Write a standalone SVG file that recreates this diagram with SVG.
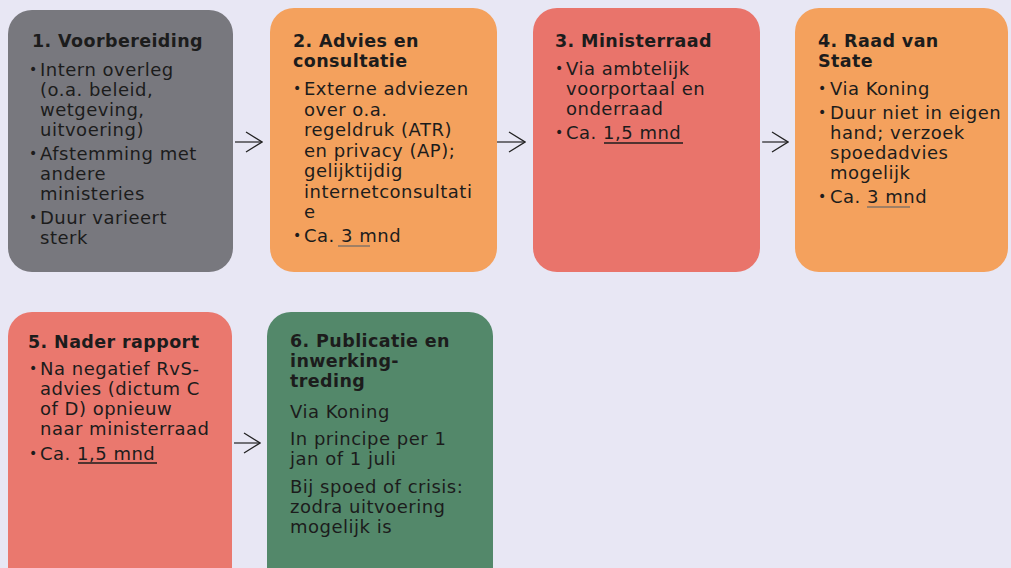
<svg xmlns="http://www.w3.org/2000/svg" width="1011" height="568" viewBox="0 0 1011 568">
<defs>
<style>
.t{font-family:"DejaVu Sans","Liberation Sans",sans-serif;font-size:17.5px;font-weight:bold;letter-spacing:0.4px;fill:#1c1c1c}
.b{font-family:"DejaVu Sans","Liberation Sans",sans-serif;font-size:18px;letter-spacing:0.5px;fill:#1c1c1c}
.bu{font-family:"DejaVu Sans","Liberation Sans",sans-serif;font-size:14px;fill:#1c1c1c}
.c{fill:none;stroke:#222;stroke-width:1.2}
.u{stroke:#1c1c1c;stroke-width:1.3}
.us{stroke:#6a6a6a;stroke-width:2;opacity:0.6}
</style>
<marker id="ah" viewBox="0 0 18 22" refX="17" refY="11" markerWidth="18" markerHeight="22" markerUnits="userSpaceOnUse" orient="auto">
<path d="M1,1 L17,11 L1,21" fill="none" stroke="#222" stroke-width="1.3"/>
</marker>
</defs>
<rect x="0" y="0" width="1011" height="568" fill="#e8e7f4"/>

<g id="n1">
<rect x="8" y="10" width="225" height="262" rx="24" fill="#78787e"/>
<text class="t" x="32" y="47">1. Voorbereiding</text>
<text class="bu" x="29" y="74">•</text>
<text class="b"><tspan x="40" y="76">Intern overleg</tspan><tspan x="40" y="96">(o.a. beleid,</tspan><tspan x="40" y="116">wetgeving,</tspan><tspan x="40" y="136">uitvoering)</tspan></text>
<text class="bu" x="29" y="158">•</text>
<text class="b"><tspan x="40" y="160">Afstemming met</tspan><tspan x="40" y="180">andere</tspan><tspan x="40" y="200">ministeries</tspan></text>
<text class="bu" x="29" y="222">•</text>
<text class="b"><tspan x="40" y="224">Duur varieert</tspan><tspan x="40" y="244">sterk</tspan></text>
</g>

<g id="n2">
<rect x="270" y="8" width="227" height="264" rx="24" fill="#f4a15d"/>
<text class="t"><tspan x="293" y="47">2. Advies en</tspan><tspan x="293" y="67">consultatie</tspan></text>
<text class="bu" x="293" y="93">•</text>
<text class="b"><tspan x="304" y="95">Externe adviezen</tspan><tspan x="304" y="115.5">over o.a.</tspan><tspan x="304" y="136">regeldruk (ATR)</tspan><tspan x="304" y="156.5">en privacy (AP);</tspan><tspan x="304" y="177">gelijktijdig</tspan><tspan x="304" y="197.5">internetconsultati</tspan><tspan x="304" y="218">e</tspan></text>
<text class="bu" x="293" y="240">•</text>
<text class="b" x="304" y="242">Ca. 3 mnd</text>
<line class="us" x1="338" y1="246" x2="370" y2="246"/>
</g>

<g id="n3">
<rect x="533" y="8" width="227" height="264" rx="24" fill="#e9746b"/>
<text class="t" x="555" y="47">3. Ministerraad</text>
<text class="bu" x="555" y="73">•</text>
<text class="b"><tspan x="566" y="75">Via ambtelijk</tspan><tspan x="566" y="95">voorportaal en</tspan><tspan x="566" y="115">onderraad</tspan></text>
<text class="bu" x="555" y="137">•</text>
<text class="b" x="566" y="139">Ca. 1,5 mnd</text>
<line class="u" x1="604" y1="143" x2="683" y2="143"/>
</g>

<g id="n4">
<rect x="795" y="8" width="213" height="264" rx="24" fill="#f4a15d"/>
<text class="t"><tspan x="818" y="47">4. Raad van</tspan><tspan x="818" y="67">State</tspan></text>
<text class="bu" x="818" y="93">•</text>
<text class="b" x="830" y="95">Via Koning</text>
<text class="bu" x="818" y="117">•</text>
<text class="b"><tspan x="830" y="119">Duur niet in eigen</tspan><tspan x="830" y="139">hand; verzoek</tspan><tspan x="830" y="159">spoedadvies</tspan><tspan x="830" y="179">mogelijk</tspan></text>
<text class="bu" x="818" y="201">•</text>
<text class="b" x="830" y="203">Ca. 3 mnd</text>
<line class="us" x1="867" y1="207" x2="910" y2="207"/>
</g>

<g id="n5">
<rect x="8" y="312" width="224" height="290" rx="24" fill="#ea786e"/>
<text class="t" x="28" y="348">5. Nader rapport</text>
<text class="bu" x="29" y="373">•</text>
<text class="b"><tspan x="40" y="375">Na negatief RvS-</tspan><tspan x="40" y="395">advies (dictum C</tspan><tspan x="40" y="415">of D) opnieuw</tspan><tspan x="40" y="435">naar ministerraad</tspan></text>
<text class="bu" x="29" y="458">•</text>
<text class="b" x="40" y="460">Ca. 1,5 mnd</text>
<line class="u" x1="78" y1="463" x2="157" y2="463"/>
</g>

<g id="n6">
<rect x="267" y="312" width="226" height="290" rx="24" fill="#53886a"/>
<text class="t"><tspan x="290" y="347">6. Publicatie en</tspan><tspan x="290" y="367">inwerking-</tspan><tspan x="290" y="387">treding</tspan></text>
<text class="b" x="290" y="418">Via Koning</text>
<text class="b"><tspan x="290" y="445">In principe per 1</tspan><tspan x="290" y="465">jan of 1 juli</tspan></text>
<text class="b"><tspan x="290" y="493">Bij spoed of crisis:</tspan><tspan x="290" y="513">zodra uitvoering</tspan><tspan x="290" y="533">mogelijk is</tspan></text>
</g>

<g id="connectors">
<line class="c" x1="235" y1="142" x2="262" y2="142" marker-end="url(#ah)"/>
<line class="c" x1="497" y1="142" x2="525" y2="142" marker-end="url(#ah)"/>
<line class="c" x1="762" y1="142" x2="788" y2="142" marker-end="url(#ah)"/>
<line class="c" x1="234" y1="443" x2="260" y2="443" marker-end="url(#ah)"/>
</g>
</svg>
